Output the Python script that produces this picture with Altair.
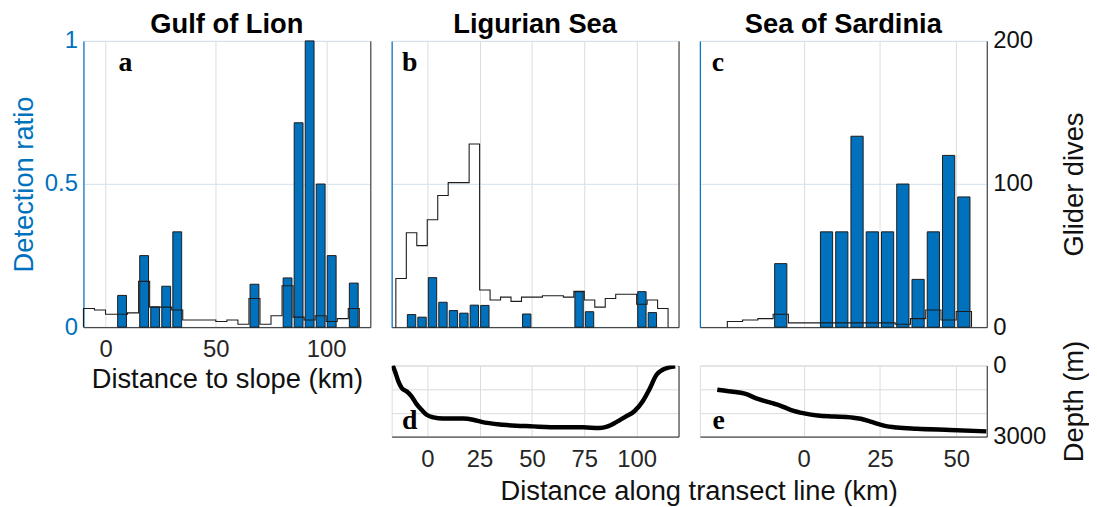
import altair as alt
import pandas as pd

BLUE = "#0072BD"
DARK = "#262626"
GRID = "#dcdcdc"
GRIDBLUE = "#d3e2f1"
FONT = "Liberation Sans"
SERIF = "Liberation Serif"

# ---- data ----
BIN = 5
BAR_W = 4

# a: Gulf of Lion
a_bar_km = [7.5, 17.5, 22.5, 27.5, 32.5, 67.5, 82.5, 87.5, 92.5, 97.5, 102.5, 112.5]
a_ratio = [0.111, 0.25, 0.071, 0.143, 0.333, 0.15, 0.172, 0.714, 1.0, 0.5, 0.25, 0.154]
a_bin_start = -10
a_dives = [13, 12, 9, 9, 10, 32, 14, 14, 12, 5, 5, 5, 4, 5, 2, 20, 2, 8, 29, 7, 5, 8, 4, 6, 13]

# b: Ligurian Sea
b_bar_km = [-7.5, -2.5, 2.5, 7.5, 12.5, 17.5, 22.5, 27.5, 47.5, 72.5, 77.5, 102.5, 107.5]
b_ratio = [0.044, 0.035, 0.173, 0.087, 0.058, 0.049, 0.077, 0.076, 0.046, 0.124, 0.054, 0.124, 0.051]
b_bin_start = -15
b_dives = [34, 66, 57, 75, 92, 101, 101, 128, 26, 19, 21, 18, 21, 21, 22, 22, 21, 25, 19, 14,
           20, 23, 23, 16, 19, 13]

# c: Sea of Sardinia
c_bar_km = [-7.5, 7.5, 12.5, 17.5, 22.5, 27.5, 32.5, 37.5, 42.5, 47.5, 52.5]
c_ratio = [0.222, 0.333, 0.333, 0.667, 0.333, 0.333, 0.5, 0.167, 0.333, 0.6, 0.455]
c_bin_start = -25
c_dives = [4, 5, 6, 9, 3, 3, 3, 3, 3, 3, 3, 2, 6, 12, 5, 11]

# d / e: depth along transect
d_km = [-16.5, -15.4, -13.8, -12.2, -9.9, -7.5, -5.1, -2.7, -0.3, 2.9, 7.6, 17.1, 21.9, 25.9,
        36.2, 50.5, 63.1, 74.3, 82.2, 86.2, 90.1, 94.9, 98.9, 102.9, 106.0, 109.5, 112.4, 115.5, 118.4]
d_depth = [0, 250, 670, 950, 1090, 1300, 1630, 1870, 2080, 2190, 2240, 2240, 2290, 2380,
           2500, 2570, 2610, 2610, 2640, 2570, 2400, 2150, 1930, 1510, 1020, 390, 180, 80, 30]
e_km = [-28.3, -23.7, -19.3, -15.0, -10.6, -7.9, -4.1, 0.2, 4.6, 10.0, 15.4, 18.7, 21.9, 26.3,
        30.6, 37.1, 48.0, 59.9]
e_depth = [1020, 1100, 1190, 1410, 1580, 1680, 1880, 2020, 2110, 2150, 2190, 2250, 2370, 2540,
           2620, 2670, 2720, 2780]

W = 289
H_TOP = 288.4
H_BOT = 71.6
LBL = 24
TTL = 27.5


def stairs(start, dives):
    edges = [start + BIN * i for i in range(len(dives) + 1)]
    xs, ys = [edges[0]], [0]
    for i, v in enumerate(dives):
        xs += [edges[i], edges[i + 1]]
        ys += [v, v]
    xs.append(edges[-1])
    ys.append(0)
    return pd.DataFrame({"km": xs, "dives": ys, "i": list(range(len(xs)))})


def x_axis(ticks, labels, title="", title_x=0, title_y=0):
    kw = dict(values=ticks, grid=True, gridColor=GRID, gridWidth=1, ticks=False, tickSize=0,
              labels=labels, labelFontSize=LBL, labelFont=FONT, labelColor=DARK, labelPadding=11,
              labelFlush=False, domainColor=DARK, domainWidth=1, format="d", title=title)
    if title:
        kw.update(titleFontSize=TTL, titleFont=FONT, titleFontWeight="normal", titleColor="#111111",
                  titleX=title_x, titleY=title_y, titleAlign="center", titleBaseline="middle")
    return alt.Axis(**kw)


def top_panel(bar_km, ratio, start, dives, dom, ticks, letter, letter_x, title,
              left_labels, right_labels, xlabels, xtitle="", xtitle_x=0, xtitle_y=0):
    bars = pd.DataFrame({"km": bar_km, "ratio": ratio})
    bars["x0"] = bars["km"] - BAR_W / 2
    bars["x1"] = bars["km"] + BAR_W / 2
    xs = alt.Scale(domain=dom, nice=False, zero=False)
    xax = x_axis(ticks, xlabels, xtitle, xtitle_x, xtitle_y)

    lkw = dict(values=[0, 0.5, 1], grid=True, gridColor=GRIDBLUE, gridWidth=1, ticks=False, tickSize=0,
               labels=left_labels, labelFontSize=LBL, labelFont=FONT, labelColor=BLUE, labelPadding=6,
               domainColor=BLUE, domainWidth=1.2, format="~g", title="")
    if left_labels:
        lkw.update(title="Detection ratio", titleFontSize=TTL, titleFont=FONT, titleFontWeight="normal",
                   titleColor=BLUE, titleAngle=270, titleX=-59, titleY=H_TOP / 2,
                   titleAlign="center", titleBaseline="middle")
    rkw = dict(orient="right", values=[0, 100, 200], grid=False, ticks=False, tickSize=0,
               labels=right_labels, labelFontSize=LBL, labelFont=FONT, labelColor="#111111",
               labelPadding=6, domainColor=DARK, domainWidth=1, format="d", title="")
    if right_labels:
        rkw.update(title="Glider dives", titleFontSize=TTL, titleFont=FONT, titleFontWeight="normal",
                   titleColor="#111111", titleAngle=270, titleX=88.7, titleY=H_TOP / 2,
                   titleAlign="center", titleBaseline="middle")

    bar_layer = alt.Chart(bars).mark_rect(fill=BLUE, stroke="#1c1c1c", strokeWidth=1).encode(
        x=alt.X("x0:Q", scale=xs, axis=xax),
        x2="x1:Q",
        y=alt.Y("ratio:Q", scale=alt.Scale(domain=[0, 1], nice=False), axis=alt.Axis(**lkw)),
        y2=alt.datum(0),
    )
    line_layer = alt.Chart(stairs(start, dives)).mark_line(color="#1c1c1c", strokeWidth=1.1).encode(
        x=alt.X("km:Q", scale=xs, axis=xax),
        y=alt.Y("dives:Q", scale=alt.Scale(domain=[0, 200], nice=False), axis=alt.Axis(**rkw)),
        order="i:Q",
    )
    txt = alt.Chart(pd.DataFrame({"t": [letter]})).mark_text(
        font=SERIF, fontWeight="bold", fontSize=28, align="left", baseline="alphabetic", color="#000000"
    ).encode(x=alt.value(letter_x), y=alt.value(30.7), text="t:N")
    ttl = alt.Chart(pd.DataFrame({"t": [title]})).mark_text(
        font=FONT, fontWeight="bold", fontSize=TTL, align="center", baseline="alphabetic", color="#000000"
    ).encode(x=alt.value(W / 2), y=alt.value(-7.8), text="t:N")

    return alt.layer(bar_layer, line_layer, txt, ttl).resolve_scale(y="independent").properties(
        width=W, height=H_TOP,
    )


def depth_panel(km, depth, dom, ticks, letter, letter_x, right_labels, xtitle="", xtitle_x=0, xtitle_y=0):
    df = pd.DataFrame({"km": km, "depth": depth, "i": list(range(len(km)))})
    rkw = dict(orient="right", values=[0, 1000, 2000, 3000], grid=True, gridColor=GRID, gridWidth=1,
               ticks=False, tickSize=0, labels=right_labels, labelFontSize=LBL, labelFont=FONT,
               labelColor="#111111", labelPadding=6, domainColor=DARK, domainWidth=1, format="d",
               labelExpr="datum.value == 1000 || datum.value == 2000 ? '' : datum.label", title="")
    if right_labels:
        rkw.update(title="Depth (m)", titleFontSize=TTL, titleFont=FONT, titleFontWeight="normal",
                   titleColor="#111111", titleAngle=270, titleX=88.7, titleY=H_BOT / 2,
                   titleAlign="center", titleBaseline="middle")
    line = alt.Chart(df).mark_line(color="#000000", strokeWidth=4.5, interpolate="monotone", clip=True).encode(
        x=alt.X("km:Q", scale=alt.Scale(domain=dom, nice=False, zero=False),
                axis=x_axis(ticks, True, xtitle, xtitle_x, xtitle_y)),
        y=alt.Y("depth:Q", scale=alt.Scale(domain=[0, 3000], reverse=True, nice=False), axis=alt.Axis(**rkw)),
        order="i:Q",
    )
    txt = alt.Chart(pd.DataFrame({"t": [letter]})).mark_text(
        font=SERIF, fontWeight="bold", fontSize=28, align="left", baseline="alphabetic", color="#000000"
    ).encode(x=alt.value(letter_x), y=alt.value(64.3), text="t:N")
    return alt.layer(line, txt).properties(width=W, height=H_BOT)


pa = top_panel(a_bar_km, a_ratio, a_bin_start, a_dives, [-10, 120], [0, 50, 100], "a", 35.3,
               "Gulf of Lion", True, False, True, "Distance to slope (km)", W / 2, 52.8)
pb = top_panel(b_bar_km, b_ratio, b_bin_start, b_dives, [-17, 120], [0, 25, 50, 75, 100], "b", 10.3,
               "Ligurian Sea", False, False, False)
pc = top_panel(c_bar_km, c_ratio, c_bin_start, c_dives, [-34, 60], [0, 25, 50], "c", 12,
               "Sea of Sardinia", False, True, False)

blank = alt.Chart(pd.DataFrame({"v": [0]})).mark_point(opacity=0).encode(
    x=alt.X("v:Q", axis=None), y=alt.Y("v:Q", axis=None)
).properties(width=W, height=H_BOT, view=alt.ViewBackground(strokeOpacity=0))

pd_ = depth_panel(d_km, d_depth, [-17, 120], [0, 25, 50, 75, 100], "d", 10.3, False,
                  "Distance along transect line (km)", 309.3, 55.7)
pe = depth_panel(e_km, e_depth, [-34, 60], [0, 25, 50], "e", 12.6, True)

chart = alt.concat(
    pa, pb, pc, blank, pd_, pe,
    columns=3,
    spacing={"row": 38, "column": 21.5},
    bounds="flush",
    align="each",
).properties(
    autosize=alt.AutoSizeParams(type="none"),
    padding={"left": 76, "top": 31.3, "right": 1013, "bottom": 467.7},
).configure_view(stroke=DARK, strokeWidth=1).configure(background="white")

chart.save("out.html", embed_options={"renderer": "svg", "actions": False})
